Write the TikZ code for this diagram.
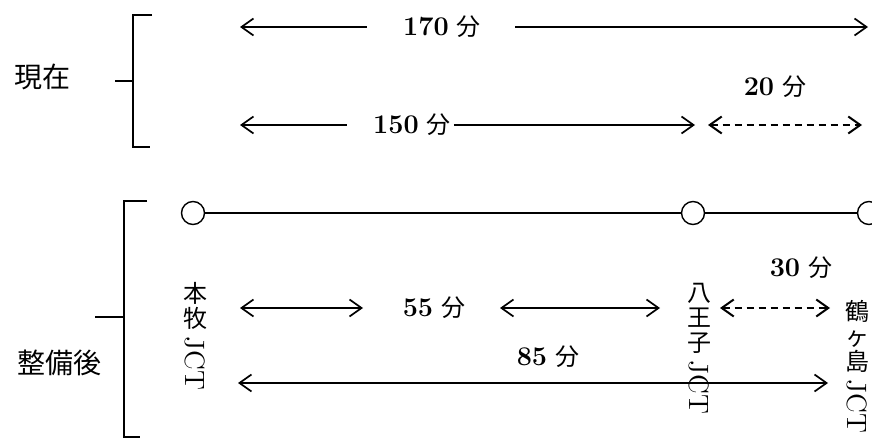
\documentclass[tikz,border=0pt]{standalone}
\usepackage{fontspec}
\newfontfamily\jp{Noto Sans CJK JP}
\usetikzlibrary{arrows.meta}

\newcommand{\mins}[1]{\textbf{#1}\hspace{0.3em}{\jp\fontsize{12}{12}\selectfont 分}}
\newcommand{\jctv}{\rotatebox{-90}{\rmfamily\fontsize{14}{14}\selectfont JCT}}

\tikzset{
  tm/.style={line width=0.85pt},
  dtm/.style={line width=1pt, dash pattern=on 3.5pt off 2.5pt},
  road/.style={line width=0.9pt},
  jct/.style={circle, draw, fill=white, line width=0.7pt, minimum size=11.5pt, inner sep=0pt},
  brace/.style={line width=0.7pt},
  vlabel/.style={anchor=north, align=center, inner sep=0pt, font=\jp\fontsize{12}{12.5}\selectfont},
}

\begin{document}
\begin{tikzpicture}[x=0.5pt, y=-0.5pt, >={Straight Barb[length=6pt,width=8.5pt]},
    every node/.style={font=\fontsize{13.5}{15}\selectfont}]
    \useasboundingbox (0,0) rectangle (872,438);

    % current
    \node (now) at (42,77) {\jp\fontsize{14}{14}\selectfont 現在};
    \draw[brace] (152,15) -- (133,15) -- (133,147) -- (150,147);
    \draw[brace] (115,81) -- (133,81);

    \node (t170) at (442,27) {\mins{170}};
    \coordinate (a170l) at (240,27);
    \coordinate (a170m) at (367,27);
    \coordinate (a170n) at (515,27);
    \coordinate (a170r) at (868,27);
    \draw[tm, <-] (a170l) -- (a170m);
    \draw[tm, ->] (a170n) -- (a170r);

    \node (t150) at (412,125) {\mins{150}};
    \coordinate (a150l) at (240,125);
    \coordinate (a150m) at (347,125);
    \coordinate (a150r) at (695,125);
    \draw[tm, <-] (a150l) -- (a150m);
    \draw[tm, ->, shorten <=-2pt] (t150.east) -- (a150r);

    \node (t20) at (775,87) {\mins{20}};
    \coordinate (a20l) at (708,125);
    \coordinate (a20r) at (862,125);
    \draw[dtm, <->] (a20l) -- (a20r);

    % after
    \node (later) at (60,363) {\jp\fontsize{14}{14}\selectfont 整備後};
    \draw[brace] (147,201) -- (124,201) -- (124,437) -- (140,437);
    \draw[brace] (95,317) -- (124,317);

    \node[jct] (j1) at (193,213) {};
    \node[jct] (j2) at (693,213) {};
    \node[jct] (j3) at (869,213) {};
    \draw[road] (j1) -- (j2) -- (j3);

    \node[vlabel] (honmoku) at (195,282) {本\\牧\\[-8pt]\jctv};
    \node[vlabel] (hachioji) at (699,283) {八\\王\\子\\[-8pt]\jctv};
    \node[vlabel] (tsuru) at (857,300) {鶴\\ヶ\\島\\[-8pt]\jctv};

    \node (t55) at (434,308) {\mins{55}};
    \coordinate (a55a) at (240,308);
    \coordinate (a55b) at (363,308);
    \coordinate (a55c) at (500,308);
    \coordinate (a55d) at (660,308);
    \draw[tm, <->] (a55a) -- (a55b);
    \draw[tm, <->] (a55c) -- (a55d);

    \node (t30) at (801,268) {\mins{30}};
    \coordinate (a30l) at (720,308);
    \coordinate (a30r) at (830,308);
    \draw[dtm, <->] (a30l) -- (a30r);

    \node (t85) at (548,357) {\mins{85}};
    \coordinate (a85l) at (238,383);
    \coordinate (a85r) at (828,383);
    \draw[tm, <->] (a85l) -- (a85r);
\end{tikzpicture}
\end{document}
